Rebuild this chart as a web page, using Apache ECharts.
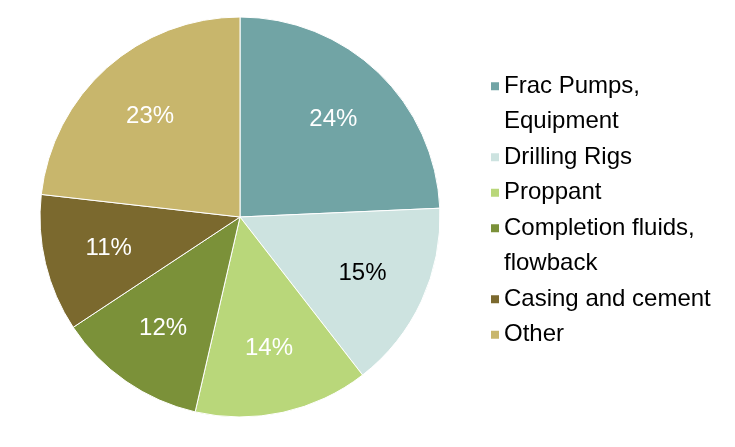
<!DOCTYPE html>
<html>
<head>
    <meta charset="utf-8">
    <title>Cost breakdown</title>
    <script src="https://cdn.jsdelivr.net/npm/echarts@6/dist/echarts.min.js"></script>
    <style>
        html, body { margin: 0; padding: 0; background: #fff; }
        #chart { width: 735px; height: 447px; }
    </style>
</head>
<body>
<div id="chart"></div>
<script>
    // data (share of total, %)
    var categories = ['Frac Pumps,\nEquipment', 'Drilling Rigs', 'Proppant', 'Completion fluids,\nflowback', 'Casing and cement', 'Other'];
    var shares = [24.3, 15.2, 14.1, 12.1, 11.1, 23.2];
    var colors = ['#71A4A5', '#CDE3E0', '#B9D77A', '#7B9139', '#7B692E', '#C8B66C'];
    var labelColors = ['#fff', '#000', '#fff', '#fff', '#fff', '#fff'];

    var myChart = echarts.init(document.getElementById('chart'));

    // slice name = first line of the category, later lines become icon-less legend rows
    var sliceNames = [];
    var extraLines = [];
    var legendData = [];
    categories.forEach(function (c) {
        var parts = c.split('\n');
        sliceNames.push(parts[0]);
        legendData.push({ name: parts[0] });
        for (var k = 1; k < parts.length; k++) {
            extraLines.push(parts[k]);
            legendData.push({ name: parts[k], icon: 'none' });
        }
    });

    var slices = sliceNames.map(function (n, i) {
        return { name: n, value: shares[i], itemStyle: { color: colors[i] } };
    });
    var labelSlices = sliceNames.map(function (n, i) {
        return { name: n, value: shares[i], label: { color: labelColors[i] } };
    });
    var extraItems = extraLines.map(function (n) {
        return { name: n, value: 0 };
    });

    var option = {
        animation: false,
        legend: {
            orient: 'vertical',
            left: 491,
            top: 68.5,
            padding: 0,
            icon: 'rect',
            itemWidth: 8,
            itemHeight: 8,
            itemGap: 0,
            selectedMode: false,
            itemStyle: { borderWidth: 0 },
            data: legendData,
            textStyle: {
                fontFamily: 'Liberation Sans',
                fontSize: 24,
                lineHeight: 35.5,
                color: '#000'
            }
        },
        series: [{
            type: 'pie',
            center: [240, 217],
            radius: [0, 200],
            startAngle: 90,
            clockwise: true,
            silent: true,
            label: { show: false },
            labelLine: { show: false },
            itemStyle: { borderColor: '#fff', borderWidth: 1 },
            data: slices
        }, {
            // transparent ring, only there to put the % labels at ~2/3 of the radius
            type: 'pie',
            center: [240, 217],
            radius: [64, 200],
            startAngle: 90,
            clockwise: true,
            silent: true,
            itemStyle: { color: 'rgba(0,0,0,0)' },
            label: {
                show: true,
                position: 'inside',
                fontFamily: 'Liberation Sans',
                fontSize: 24,
                formatter: function (p) { return Math.round(p.value) + '%'; }
            },
            labelLine: { show: false },
            data: labelSlices
        }, {
            // holds the wrapped legend lines, draws nothing
            type: 'pie',
            center: [240, 217],
            radius: [0, 1],
            silent: true,
            stillShowZeroSum: false,
            itemStyle: { color: 'rgba(0,0,0,0)' },
            label: { show: false },
            labelLine: { show: false },
            data: extraItems
        }]
    };
    myChart.setOption(option);
</script>
</body>
</html>
